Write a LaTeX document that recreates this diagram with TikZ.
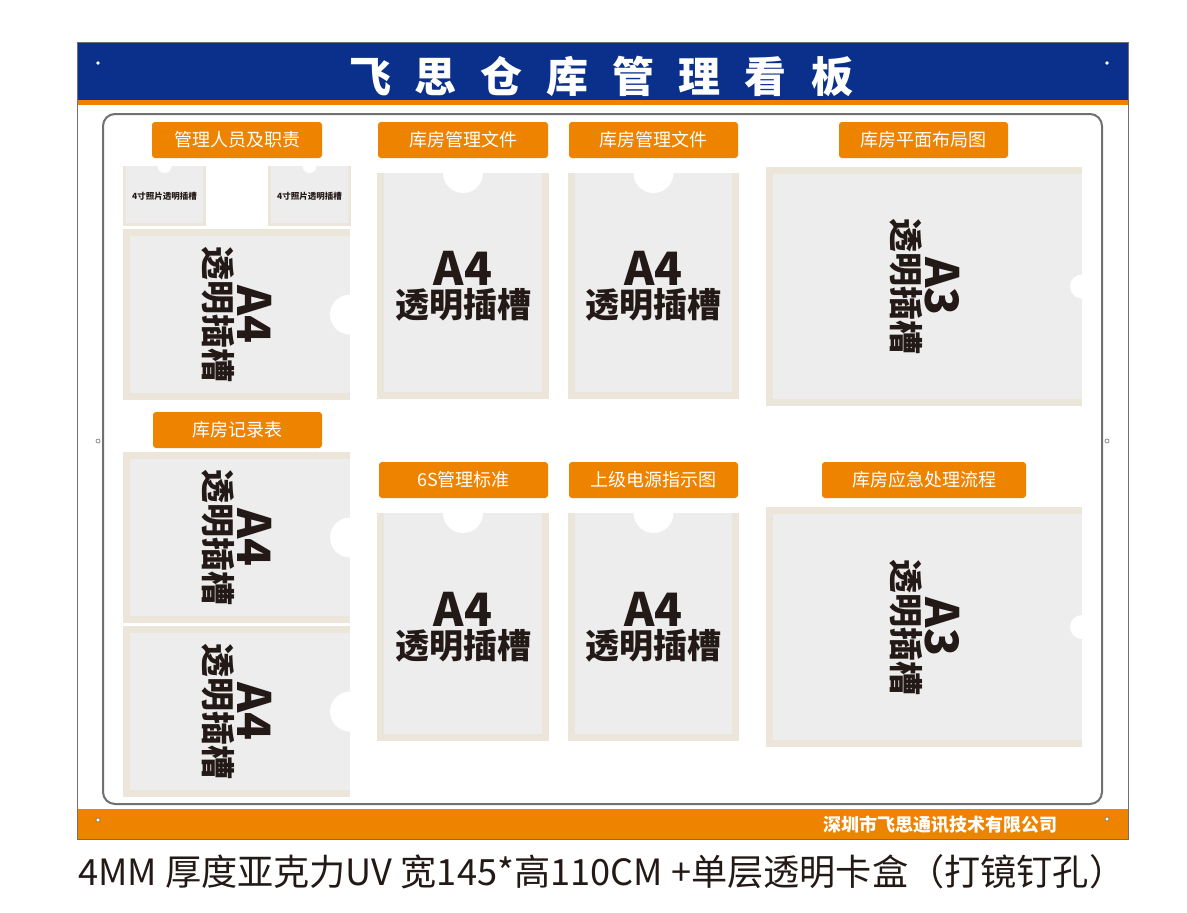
\documentclass[tikz,border=0pt]{standalone}
\usepackage{fontspec}
\usepackage{graphicx}
\newfontfamily\cjk{Noto Sans CJK SC}
\definecolor{hdrblue}{RGB}{10,48,140}
\definecolor{ora}{RGB}{238,131,0}
\definecolor{beige}{RGB}{236,230,218}
\definecolor{slotgray}{RGB}{237,237,237}
\definecolor{framegray}{RGB}{112,112,112}
\definecolor{ink}{RGB}{35,25,22}
\tikzset{
  lbl/.style={fill=ora, rounded corners=3pt, text=white, font=\cjk\fontsize{18}{18}\selectfont, minimum height=36pt, inner sep=0pt},
  bigtxt/.style={font=\cjk\bfseries\fontsize{46}{46}\selectfont, text=ink, inner sep=0pt},
  cjktxt/.style={font=\cjk\bfseries\fontsize{34}{34}\selectfont, text=ink, inner sep=0pt},
  phototxt/.style={font=\cjk\bfseries\fontsize{8.5}{8.5}\selectfont, text=ink, inner sep=0pt},
  hole/.style={fill=white, draw=framegray, line width=0.6pt},
}
% portrait slot: x1 y1 x2 y2 name
\newcommand\PSlot[5]{%
  \fill[beige] (#1,#2) rectangle (#3,#4);
  \fill[slotgray] ({#1+7},#2) rectangle ({#3-7},{#4-7});
  \begin{scope}\clip (#1,#2) rectangle (#3,#4);
    \fill[white] ({(#1+#3)/2},#2) circle[radius=20pt];
  \end{scope}
  \node[bigtxt] (#5a) at ({(#1+#3)/2},{(#2+#4)/2-18}) {A4};
  \node[cjktxt] (#5b) at ({(#1+#3)/2},{(#2+#4)/2+19}) {透明插槽};
}
% landscape slot: x1 y1 x2 y2 notchradius label name
\newcommand\LSlot[7]{%
  \fill[beige] (#1,#2) rectangle (#3,#4);
  \fill[slotgray] ({#1+7},{#2+7}) rectangle (#3,{#4-7});
  \begin{scope}\clip (#1,#2) rectangle (#3,#4);
    \fill[white] (#3,{(#2+#4)/2}) circle[radius=#5pt];
  \end{scope}
  \node[bigtxt, rotate=-90] (#7a) at ({(#1+#3)/2+18},{(#2+#4)/2}) {#6};
  \node[cjktxt, rotate=-90] (#7b) at ({(#1+#3)/2-18},{(#2+#4)/2}) {透明插槽};
}
% photo slot: x1 y1 x2 y2 name
\newcommand\PhSlot[5]{%
  \fill[beige] (#1,#2) rectangle (#3,#4);
  \fill[slotgray] ({#1+3},#2) rectangle ({#3-3},{#4-3});
  \begin{scope}\clip (#1,#2) rectangle (#3,#4);
    \fill[white] ({(#1+#3)/2},#2) circle[radius=7pt];
  \end{scope}
  \node[phototxt] (#5) at ({(#1+#3)/2},{(#2+#4)/2}) {4寸照片透明插槽};
}
\begin{document}
\begin{tikzpicture}[x=1pt,y=-1pt]
\useasboundingbox (0,0) rectangle (1187,913);
\fill[white] (0,0) rectangle (1187,913);
% board
\fill[hdrblue] (77,42) rectangle (1128,100);
\fill[ora] (77,100) rectangle (1128,105);
\fill[ora] (77,809) rectangle (1128,839);
\draw[framegray, line width=0.8pt] (77,42) rectangle (1128,839);
\draw[framegray, line width=2pt, rounded corners=12pt] (103,114) rectangle (1102,804);
% title
\node[font=\cjk\bfseries\fontsize{42}{42}\selectfont, text=white, inner sep=0pt] (title) at (601,76)
  {飞\hspace{24pt}思\hspace{24pt}仓\hspace{24pt}库\hspace{24pt}管\hspace{24pt}理\hspace{24pt}看\hspace{24pt}板};
% holes
\fill[white] (98,63) circle[radius=1.8pt];
\fill[white] (1107,63) circle[radius=1.8pt];
\draw[hole] (98,441) circle[radius=2pt];
\draw[hole] (1107,441) circle[radius=2pt];
\draw[hole] (98,820) circle[radius=2pt];
\draw[hole] (1107,819) circle[radius=2pt];
% labels
\node[lbl, minimum width=170pt] (l1) at (237,140) {管理人员及职责};
\node[lbl, minimum width=170pt] (l2) at (463,140) {库房管理文件};
\node[lbl, minimum width=169pt] (l3) at (653.5,140) {库房管理文件};
\node[lbl, minimum width=169pt] (l4) at (923.5,140) {库房平面布局图};
\node[lbl, minimum width=169pt] (l5) at (237.5,430) {库房记录表};
\node[lbl, minimum width=169pt] (l6) at (463.5,480) {6S管理标准};
\node[lbl, minimum width=169pt] (l7) at (653.5,480) {上级电源指示图};
\node[lbl, minimum width=204pt] (l8) at (924,480) {库房应急处理流程};
% slots
\PhSlot{123}{166}{206}{226}{ph1}
\PhSlot{268}{166}{351}{226}{ph2}
\LSlot{123}{229}{350}{400}{20}{A4}{s1}
\LSlot{123}{452}{350}{623}{20}{A4}{s2}
\LSlot{123}{626}{350}{797}{20}{A4}{s3}
\PSlot{377}{173}{549}{399}{s4}
\PSlot{568}{173}{739}{399}{s5}
\PSlot{377}{513}{549}{741}{s6}
\PSlot{568}{513}{739}{741}{s7}
\LSlot{766}{167}{1082}{406}{12}{A3}{s8}
\LSlot{766}{507}{1082}{747}{12}{A3}{s9}
% footer
\node[font=\cjk\bfseries\fontsize{18}{18}\selectfont, text=white, inner sep=0pt] (company) at (940,825) {深圳市飞思通讯技术有限公司};
\node[inner sep=0pt, anchor=west, text=ink] (caption) at (78,872)
  {\resizebox{1047pt}{!}{\cjk\fontsize{36}{36}\selectfont 4MM 厚度亚克力UV 宽145*高110CM +单层透明卡盒（打镜钉孔）}};
\end{tikzpicture}
\end{document}
